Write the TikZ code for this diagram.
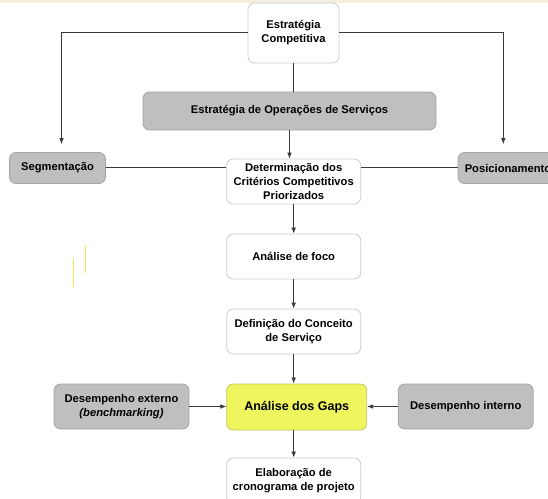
\documentclass[tikz,border=0pt]{standalone}
\usepackage{fontspec}
\setmainfont{Liberation Sans}
\usetikzlibrary{arrows.meta}
\definecolor{boxgray}{HTML}{BFBFBF}
\definecolor{edgegray}{HTML}{A4A4A4}
\definecolor{lightedge}{HTML}{CCCCCC}
\definecolor{gapyellow}{HTML}{EEF55E}
\definecolor{gapedge}{HTML}{C4C85A}
\definecolor{linkcol}{HTML}{3A3A3A}
\definecolor{strip}{HTML}{F4EEDF}
\definecolor{tick}{HTML}{E6EE45}
\begin{document}
\begin{tikzpicture}[x=1pt, y=-1pt,
  every node/.style={font=\fontsize{11.2}{14}\selectfont\bfseries, align=center, inner sep=2pt},
  basebox/.style={rectangle, rounded corners=6.5pt, line width=0.8pt},
  whitebox/.style={basebox, draw=lightedge, fill=white, minimum width=134pt, minimum height=45pt},
  graybox/.style={basebox, draw=edgegray, fill=boxgray},
  gapbox/.style={basebox, draw=gapedge, fill=gapyellow, minimum width=140pt, minimum height=46pt, font=\fontsize{12.5}{15}\selectfont\bfseries},
  link/.style={draw=linkcol, line width=0.75pt},
  arrow/.style={link, -{Latex[length=6pt, width=4.6pt]}}
]
\useasboundingbox (0,0) rectangle (548,498);
\begin{scope}
\clip (0,0) rectangle (548,498);
% faint strip along the top edge
\fill[strip] (0,0) rectangle (548,3);

% boxes
\node[whitebox, minimum width=91pt, minimum height=60pt] (comp) at (293.5,33) {Estratégia\\Competitiva};
\node[graybox, minimum width=293pt, minimum height=38pt] (ops) at (289.5,111) {Estratégia de Operações de Serviços};
\node[graybox, minimum width=96pt, minimum height=31pt] (seg) at (57.5,168) {Segmentação};
\node[graybox, minimum width=100pt, minimum height=31pt] (pos) at (508,168) {Posicionamento};
\node[whitebox] (det) at (293.7,181.5) {Determinação dos\\Critérios Competitivos\\Priorizados};
\node[whitebox] (foco) at (293.7,256.5) {Análise de foco};
\node[whitebox] (conc) at (293.7,331.5) {Definição do Conceito\\de Serviço};
\node[gapbox] (gaps) at (296.7,407) {Análise dos Gaps};
\node[graybox, minimum width=135pt, minimum height=45pt] (ext) at (121.5,406.5) {Desempenho externo\\\textit{(benchmarking)}};
\node[graybox, minimum width=135pt, minimum height=45pt] (int) at (465.7,406.5) {Desempenho interno};
\node[whitebox, minimum height=46pt] (elab) at (293.7,481) {Elaboração de\\cronograma de projeto};

% connectors
\draw[arrow, shorten >=8pt] ([yshift=0.7pt]comp.west) -| ([xshift=4pt]seg.north);
\draw[arrow, shorten >=8pt] ([yshift=0.7pt]comp.east) -| ([xshift=-4.7pt]pos.north);
\draw[link] (comp.south) -- (comp.south |- ops.north);
\draw[arrow] (ops.south) -- (ops.south |- det.north);
\draw[link] ([yshift=1pt]seg.east) -- ([yshift=1pt]seg.east -| det.west);
\draw[link] ([yshift=1pt]det.east |- pos.west) -- ([yshift=1pt]pos.west);
\draw[arrow] (det.south) -- (foco.north);
\draw[arrow] (foco.south) -- (conc.north);
\draw[arrow] (conc.south) -- (conc.south |- gaps.north);
\draw[arrow] (elab.north |- gaps.south) -- (elab.north);
\draw[arrow] (ext.east) -- (ext.east -| gaps.west);
\draw[arrow] (int.west) -- (int.west -| gaps.east);

% two short yellow strokes on the left
\draw[tick, line width=1pt] (73,259) -- (73,287);
\draw[tick, line width=1pt] (85,245) -- (85,273);
\end{scope}
\end{tikzpicture}
\end{document}
